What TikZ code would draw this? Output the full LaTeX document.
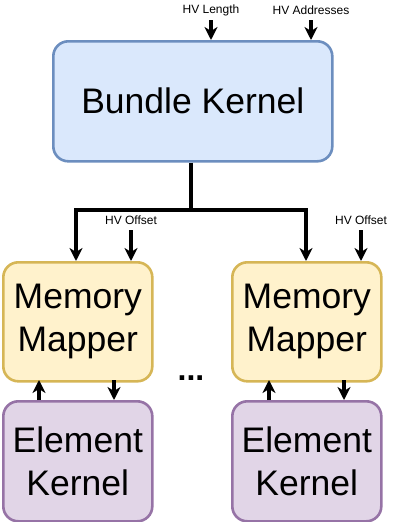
\documentclass[tikz,border=0pt]{standalone}
\usepackage{fontspec}
\setmainfont{Liberation Sans}
\usetikzlibrary{arrows.meta}
\definecolor{bfill}{HTML}{DAE8FC}\definecolor{bline}{HTML}{6C8EBF}
\definecolor{yfill}{HTML}{FFF2CC}\definecolor{yline}{HTML}{D6B656}
\definecolor{pfill}{HTML}{E1D5E7}\definecolor{pline}{HTML}{9673A6}
\begin{document}
\begin{tikzpicture}[x=1pt,y=-1pt,
  box/.style={rounded corners=15pt,line width=2.6pt,inner sep=0pt,anchor=north west,align=center,font=\fontsize{35.5}{43}\selectfont},
  conn/.style={line width=3.4pt,-{Stealth[length=13pt,width=13pt,inset=4pt]}},
  lbl/.style={font=\fontsize{12}{14}\selectfont,inner sep=0pt}]
\useasboundingbox (0,0) rectangle (402,522);
\node[box,fill=bfill,draw=bline,minimum width=279pt,minimum height=120pt] (bk) at (52,40) {Bundle Kernel};
\node[box,fill=yfill,draw=yline,minimum width=149pt,minimum height=119pt] (mm1) at (2,261) {Memory\\Mapper};
\node[box,fill=yfill,draw=yline,minimum width=149pt,minimum height=119pt] (mm2) at (231,261) {Memory\\Mapper};
\node[box,fill=pfill,draw=pline,minimum width=149pt,minimum height=120pt] (ek1) at (2,400) {Element\\Kernel};
\node[box,fill=pfill,draw=pline,minimum width=149pt,minimum height=120pt] (ek2) at (231,400) {Element\\Kernel};
\node[lbl] (l1) at (211,10) {HV Length};
\node[lbl] (l2) at (311,10) {HV Addresses};
\node[lbl] (o1) at (131,220) {HV Offset};
\node[lbl] (o2) at (361,220) {HV Offset};
\node[font=\fontsize{32}{36}\selectfont\bfseries] (dots) at (191,378) {...};
\coordinate (t1) at (211,20); \coordinate (t2) at (311,20);
\coordinate (s1) at (131,230); \coordinate (s2) at (361,230);
\draw[conn] (t1) -- (t1 |- bk.north);
\draw[conn] (t2) -- (t2 |- bk.north);
\draw[conn] (s1) -- (s1 |- mm1.north);
\draw[conn] (s2) -- (s2 |- mm2.north);
\coordinate (j) at (191,210);
\draw[line width=3.4pt] (bk.south -| j) -- (j);
\draw[conn] (j) -| (76,261);
\draw[conn] (j) -| (306,261);
\draw[conn] (39,400) -- (39,380);
\draw[conn] (114,380) -- (114,400);
\draw[conn] (269,400) -- (269,380);
\draw[conn] (344,380) -- (344,400);
\end{tikzpicture}
\end{document}
